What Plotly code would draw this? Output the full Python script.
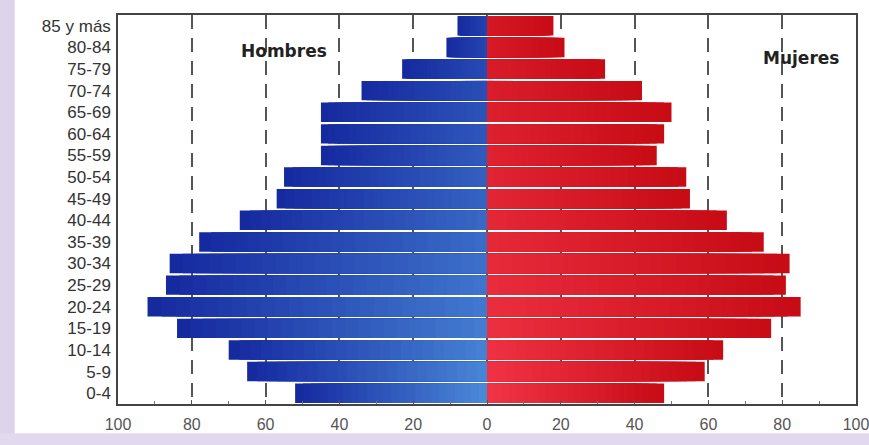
import plotly.graph_objects as go

age_groups = ["0-4", "5-9", "10-14", "15-19", "20-24", "25-29", "30-34", "35-39",
              "40-44", "45-49", "50-54", "55-59", "60-64", "65-69", "70-74",
              "75-79", "80-84", "85 y más"]
hombres = [52, 65, 70, 84, 92, 87, 86, 78, 67, 57, 55, 45, 45, 45, 34, 23, 11, 8]
mujeres = [48, 59, 64, 77, 85, 81, 82, 75, 65, 55, 54, 46, 48, 50, 42, 32, 21, 18]
tick_vals = [-100, -80, -60, -40, -20, 0, 20, 40, 60, 80, 100]
tick_text = ["100", "80", "60", "40", "20", "0", "20", "40", "60", "80", "100"]


def mix(c1, c2, t):
    t = max(0.0, min(1.0, t))
    return "rgb({},{},{})".format(*[int(round(a + (b - a) * t)) for a, b in zip(c1, c2)])


blue_dark, blue_light = (22, 42, 160), (74, 136, 216)
red_dark, red_light = (200, 12, 22), (240, 52, 70)

n_layers = 24
n = len(age_groups)
fig = go.Figure()
for k in range(n_layers):
    frac = 1 - k / n_layers
    t = k / (n_layers - 1)
    bcols = [mix(blue_dark, blue_light, t * (0.25 + 0.75 * (n - 1 - i) / (n - 1))) for i in range(n)]
    rcols = [mix(red_dark, red_light, t * (0.3 + 0.7 * (n - 1 - i) / (n - 1))) for i in range(n)]
    fig.add_trace(go.Bar(y=age_groups, x=[-v * frac for v in hombres], orientation="h",
                         marker=dict(color=bcols, line=dict(width=0)), showlegend=False,
                         name="Hombres", hoverinfo="skip" if k else None))
    fig.add_trace(go.Bar(y=age_groups, x=[v * frac for v in mujeres], orientation="h",
                         marker=dict(color=rcols, line=dict(width=0)), showlegend=False,
                         name="Mujeres", hoverinfo="skip" if k else None))

fig.update_layout(
    width=869, height=445,
    barmode="overlay", bargap=0.1,
    plot_bgcolor="white", paper_bgcolor="white",
    margin=dict(l=118, r=13, t=15, b=41),
    font=dict(family="Liberation Sans, Arial, sans-serif", color="#333333"),
    xaxis=dict(range=[-100, 100], tickvals=tick_vals, ticktext=tick_text, automargin=False,
               showgrid=True, gridcolor="#555555", griddash="14px,9px", gridwidth=1.5,
               zeroline=False, showline=True, linecolor="#444444", linewidth=1.5, mirror=True,
               ticks="inside", ticklen=4, tickcolor="#555555", ticklabeloverflow="allow",
               ticklabelstandoff=5,
               minor=dict(dtick=10, ticks="inside", ticklen=3, tickcolor="#777777", showgrid=False),
               tickfont=dict(size=16, color="#555555")),
    yaxis=dict(categoryorder="array", categoryarray=age_groups, automargin=False,
               showline=True, linecolor="#444444", linewidth=1.5, mirror=True,
               showgrid=False, zeroline=False, ticks="", ticklabelstandoff=2,
               tickfont=dict(size=17, color="#333333")),
    annotations=[
        dict(text="<b>Hombres</b>", x=-55, y=0.938, xref="x", yref="paper",
             showarrow=False, font=dict(size=17, color="#222222",
                                        family="DejaVu Sans, Arial, sans-serif")),
        dict(text="<b>Mujeres</b>", x=85, y=0.92, xref="x", yref="paper",
             showarrow=False, font=dict(size=17, color="#222222",
                                        family="DejaVu Sans, Arial, sans-serif")),
    ],
    shapes=[
        dict(type="rect", xref="paper", yref="paper", x0=-0.16, x1=-0.14, y0=-0.2, y1=1.1,
             fillcolor="#ddd3ea", line=dict(width=0), layer="below"),
        dict(type="rect", xref="paper", yref="paper", x0=-0.16, x1=1.05, y0=-0.2, y1=-0.075,
             fillcolor="#e2d9ee", line=dict(width=0), layer="below"),
    ],
)

fig.write_html("out.html")
